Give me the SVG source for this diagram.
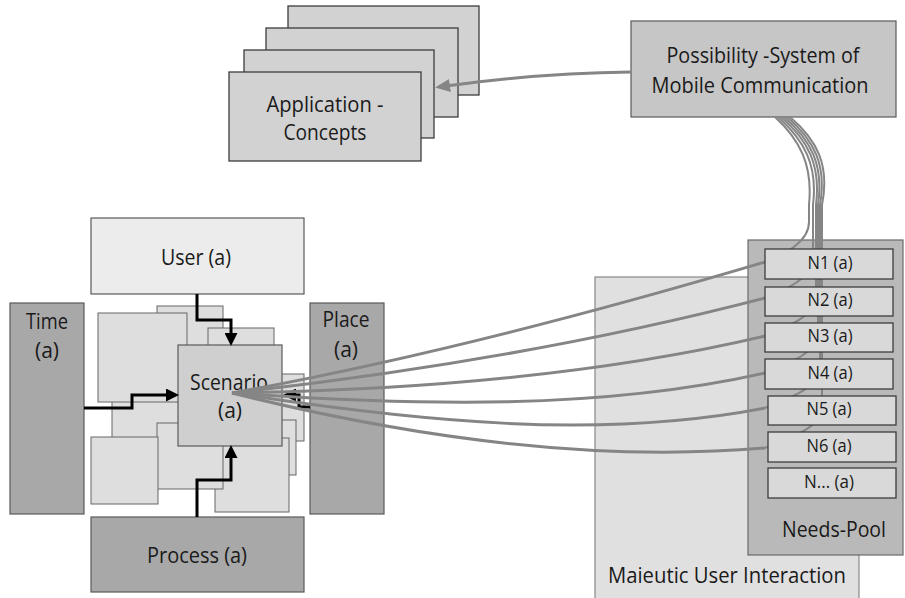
<svg xmlns="http://www.w3.org/2000/svg" width="905" height="598" viewBox="0 0 905 598">
  <style>
    .t { font-family: "Open Sans", "Noto Sans", sans-serif; font-size: 22px; font-weight: 500; fill: #1a1a1a; text-anchor: middle; }
    .ts { font-size: 18px; }
    .box { stroke: #5a5a5a; stroke-width: 1.2; }
    .light { fill: #ececec; }
    .dark { fill: #a8a8a8; }
    .mid { fill: #cfcfcf; }
    .tile { fill: #dedede; stroke: #666; stroke-width: 1; }
    .app { fill: #d2d2d2; stroke: #3c3c3c; stroke-width: 1.3; }
    .need { fill: #d9d9d9; stroke: #3c3c3c; stroke-width: 1.3; }
    .flow { fill: none; stroke: #000; stroke-width: 3; }
    .link { fill: none; stroke: #858585; stroke-width: 3; }
    .up { stroke-width: 2; }
  </style>
  <defs>
    <marker id="ah" markerUnits="userSpaceOnUse" markerWidth="13" markerHeight="13" viewBox="0 0 13 13" refX="4" refY="6.5" orient="auto">
      <path d="M0,0 L13,6.5 L0,13 z" fill="#000"/>
    </marker>
    <marker id="ahg" markerUnits="userSpaceOnUse" markerWidth="15" markerHeight="13" viewBox="0 0 15 13" refX="4" refY="6.5" orient="auto">
      <path d="M0,0 L15,6.5 L0,13 z" fill="#858585"/>
    </marker>
  </defs>

  <!-- application concept stack -->
  <g id="application-concepts">
    <rect class="app" x="288" y="6" width="191" height="89"/>
    <rect class="app" x="266" y="28" width="192" height="89"/>
    <rect class="app" x="244" y="50" width="190" height="88"/>
    <rect class="app" x="229" y="72" width="192" height="89"/>
    <text class="t" x="325" y="112" textLength="117" lengthAdjust="spacingAndGlyphs">Application -</text>
    <text class="t" x="325" y="140" textLength="83" lengthAdjust="spacingAndGlyphs">Concepts</text>
  </g>

  <g id="possibility-system">
    <rect class="box" x="631" y="21" width="265" height="96" fill="#c6c6c6"/>
    <text class="t" x="763" y="63" textLength="193" lengthAdjust="spacingAndGlyphs">Possibility -System of</text>
    <text class="t" x="760" y="93" textLength="217" lengthAdjust="spacingAndGlyphs">Mobile Communication</text>
  </g>

  <g id="maieutic-user-interaction">
    <rect x="595" y="277" width="264" height="330" fill="#e0e0e0" stroke="#888" stroke-width="1.2"/>
    <text class="t" x="727" y="583" textLength="238" lengthAdjust="spacingAndGlyphs">Maieutic User Interaction</text>
  </g>

  <g id="needs-pool">
    <rect x="748" y="240" width="155" height="315" fill="#b9b9b9" stroke="#6a6a6a" stroke-width="1.2"/>
    <text class="t" x="834" y="537" textLength="104" lengthAdjust="spacingAndGlyphs">Needs-Pool</text>
  </g>

  <g id="user">
    <rect class="box light" x="91" y="218" width="213" height="76"/>
    <text class="t" x="196" y="265" textLength="70" lengthAdjust="spacingAndGlyphs">User (a)</text>
  </g>

  <g id="time">
    <rect class="box dark" x="10" y="303" width="74" height="211"/>
    <text class="t" x="47" y="329" textLength="42" lengthAdjust="spacingAndGlyphs">Time</text>
    <text class="t" x="47" y="358" textLength="24" lengthAdjust="spacingAndGlyphs">(a)</text>
  </g>

  <g id="place">
    <rect class="box dark" x="310" y="303" width="74" height="211"/>
    <text class="t" x="346" y="327" textLength="47" lengthAdjust="spacingAndGlyphs">Place</text>
    <text class="t" x="346" y="357" textLength="24" lengthAdjust="spacingAndGlyphs">(a)</text>
  </g>

  <g id="process">
    <rect class="box dark" x="91" y="517" width="213" height="75"/>
    <text class="t" x="197" y="563" textLength="100" lengthAdjust="spacingAndGlyphs">Process (a)</text>
  </g>

  <!-- scattered scenario variants behind the main scenario -->
  <g id="scenario-variants">
    <rect class="tile" x="112" y="396" width="90" height="74"/>
    <rect class="tile" x="157" y="306" width="66" height="70"/>
    <rect class="tile" x="98" y="313" width="89" height="89"/>
    <rect class="tile" x="208" y="328" width="66" height="40"/>
    <rect class="tile" x="250" y="374" width="54" height="67"/>
    <rect class="tile" x="250" y="420" width="46" height="55"/>
    <rect class="tile" x="215" y="438" width="74" height="74"/>
    <rect class="tile" x="157" y="423" width="66" height="66"/>
    <rect class="tile" x="91" y="437" width="67" height="67"/>
  </g>

  <g id="scenario">
    <rect class="box mid" x="178" y="345" width="104" height="101"/>
    <text class="t" x="229" y="390" textLength="78" lengthAdjust="spacingAndGlyphs">Scenario</text>
    <text class="t" x="230" y="418" textLength="24" lengthAdjust="spacingAndGlyphs">(a)</text>
  </g>

  <g id="connectors">
    <!-- dimension inputs into the scenario -->
    <path class="flow" d="M197,294 V320 H231 V337" marker-end="url(#ah)"/>
    <path class="flow" d="M84,408 H132 V395 H170" marker-end="url(#ah)"/>
    <path class="flow" d="M197,517 V480 H231 V454" marker-end="url(#ah)"/>
    <path class="flow" d="M310,407 H299 V395 H292" marker-end="url(#ah)"/>

    <!-- possibility system to application concepts -->
    <path class="link" d="M631,72 Q540,73 446,86" marker-end="url(#ahg)"/>

    <!-- scenario to needs -->
    <path class="link" d="M232,393 C420,359 600,311 765,262"/>
    <path class="link" d="M232,393 C420,372 600,341 765,298"/>
    <path class="link" d="M232,393 C420,390 600,375 765,336"/>
    <path class="link" d="M232,393 C420,406 600,410 765,373"/>
    <path class="link" d="M232,393 C420,422 600,440 765,408"/>
    <path class="link" d="M232,393 C420,440 600,462 765,448"/>

    <!-- possibility system to needs -->
    <path class="link up" d="M775,117 C800,140 813,165 809,205 L809,222 C809,242 785,254 765,262"/>
    <path class="link up" d="M778,117 C804,140 818,165 813,205 L813,258 C813,278 785,290 765,298"/>
    <path class="link up" d="M781,117 C808,140 821,165 816,205 L816,296 C816,316 785,328 765,336"/>
    <path class="link up" d="M784,117 C811,140 824,165 818,205 L818,333 C818,353 785,365 765,373"/>
    <path class="link up" d="M787,117 C814,140 827,165 820,205 L820,368 C820,388 785,400 765,408"/>
    <path class="link up" d="M790,117 C817,140 830,165 822,205 L822,408 C822,428 785,440 765,448"/>
  </g>

  <g id="need-n1"><rect class="need" x="765" y="249" width="128" height="30"/><text class="t ts" x="830" y="269" textLength="45" lengthAdjust="spacingAndGlyphs">N1 (a)</text></g>
  <g id="need-n2"><rect class="need" x="765" y="287" width="128" height="29"/><text class="t ts" x="830" y="306" textLength="45" lengthAdjust="spacingAndGlyphs">N2 (a)</text></g>
  <g id="need-n3"><rect class="need" x="765" y="323" width="128" height="29"/><text class="t ts" x="830" y="342" textLength="45" lengthAdjust="spacingAndGlyphs">N3 (a)</text></g>
  <g id="need-n4"><rect class="need" x="765" y="359" width="128" height="30"/><text class="t ts" x="830" y="379" textLength="45" lengthAdjust="spacingAndGlyphs">N4 (a)</text></g>
  <g id="need-n5"><rect class="need" x="768" y="396" width="128" height="29"/><text class="t ts" x="829" y="415" textLength="45" lengthAdjust="spacingAndGlyphs">N5 (a)</text></g>
  <g id="need-n6"><rect class="need" x="768" y="432" width="128" height="30"/><text class="t ts" x="829" y="452" textLength="45" lengthAdjust="spacingAndGlyphs">N6 (a)</text></g>
  <g id="need-more"><rect class="need" x="768" y="468" width="128" height="30"/><text class="t ts" x="829" y="488" textLength="50" lengthAdjust="spacingAndGlyphs">N... (a)</text></g>
</svg>
